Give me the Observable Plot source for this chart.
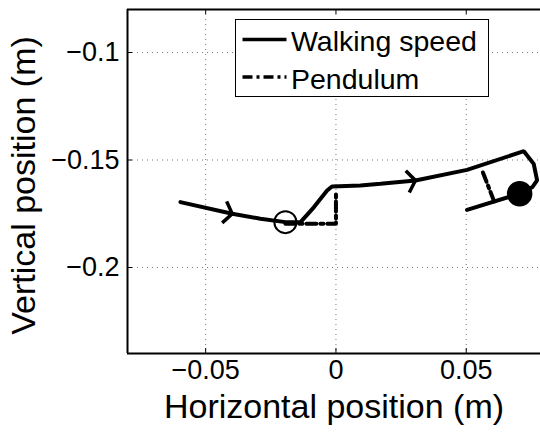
<!DOCTYPE html>
<html>
<head>
<meta charset="utf-8">
<script src="https://cdn.jsdelivr.net/npm/d3@7"></script>
<script src="https://cdn.jsdelivr.net/npm/@observablehq/plot@0.6"></script>
<style>
  body { margin: 0; background: white; }
  #wrap { position: relative; width: 540px; height: 435px; font-family: "Liberation Sans", Arial, sans-serif; }
  #legend { position: absolute; left: 235px; top: 19px; width: 252px; height: 76px; border: 1.5px solid black; background: white; }
</style>
</head>
<body>
<div id="wrap"><div id="chart"></div><div id="legend"></div></div>
<script>
// ---- data ----
const xTicks = [-0.05, 0, 0.05];
const xTickLabels = ["\u22120.05", "0", "0.05"];
const yTicks = [-0.2, -0.15, -0.1];
const yTickLabels = ["\u22120.2", "\u22120.15", "\u22120.1"];
const xDomain = [-0.08, 0.0785];
const yDomain = [-0.24, -0.08];
const xLabel = "Horizontal position (m)";
const yLabel = "Vertical position (m)";

const seriesNames = ["Walking speed", "Pendulum"];

// Walking speed trajectory
const walkX = [-0.0597, -0.0398, -0.0290, -0.0194, -0.0136, -0.0085, -0.0034, -0.0015, 0.0094, 0.0171, 0.0305, 0.0503, 0.0721, 0.0759, 0.0772, 0.0753, 0.0705, 0.0503];
const walkY = [-0.1696, -0.1750, -0.1773, -0.1789, -0.1789, -0.1720, -0.1642, -0.1623, -0.1619, -0.1611, -0.1595, -0.1546, -0.1459, -0.1518, -0.1595, -0.1627, -0.1657, -0.1732];

// Pendulum segments
const pendSeg = [0, 0, 0, 1, 1];
const pendX = [-0.0194, 0.0, 0.0, 0.0564, 0.0610];
const pendY = [-0.1797, -0.1797, -0.1650, -0.1558, -0.1702];

// direction arrows
const arrowX = [-0.0398, 0.0305];
const arrowY = [-0.1750, -0.1595];
const arrowAngle = [11.7, -9.2];

// start / end markers
const openX = [-0.0194], openY = [-0.1789];
const filledX = [0.0705], filledY = [-0.1657];

// ---- layout ----
const W = 540, H = 435, mL = 127, mR = 0, mT = 9, mB = 82;
const frameW = W - mL - mR, frameH = H - mT - mB, tickLen = 5;

// ---- build ----
const walk = walkX.map((x, i) => ({x, y: walkY[i]}));
const pend = pendX.map((x, i) => ({x, y: pendY[i], s: pendSeg[i]}));
const xFmt = new Map(xTicks.map((t, i) => [t, xTickLabels[i]]));
const yFmt = new Map(yTicks.map((t, i) => [t, yTickLabels[i]]));

function chevron(angleDeg) {
  const a = angleDeg * Math.PI / 180, c = Math.cos(a), s = Math.sin(a);
  const pts = [[-8, -11], [0, 0], [-8, 11]];
  return {draw(ctx) {
    pts.forEach(([px, py], i) => {
      const X = px * c - py * s, Y = px * s + py * c;
      if (i) ctx.lineTo(X, Y); else ctx.moveTo(X, Y);
    });
  }};
}

const arrowMarks = arrowX.map((x, i) => Plot.dot([{x, y: arrowY[i]}], {
  x: "x", y: "y", symbol: chevron(arrowAngle[i]), r: 10, fill: "none", stroke: "black", strokeWidth: 3.5, strokeLinejoin: "miter"
}));

const font = "Liberation Sans, Arial, Helvetica, sans-serif";

const chart = Plot.plot({
  width: W, height: H,
  marginLeft: mL, marginRight: mR, marginTop: mT, marginBottom: mB,
  style: {fontFamily: font, fontSize: "27px", background: "white", color: "black", overflow: "visible"},
  x: {domain: xDomain},
  y: {domain: yDomain},
  marks: [
    Plot.gridX(xTicks, {stroke: "#777", strokeOpacity: 1, strokeDasharray: "1,4"}),
    Plot.gridY(yTicks, {stroke: "#777", strokeOpacity: 1, strokeDasharray: "1,4"}),
    Plot.axisX(xTicks, {tickFormat: d => xFmt.get(d), tickSize: 0, tickPadding: 6, fontSize: 27, label: null}),
    Plot.axisY(yTicks, {tickFormat: d => yFmt.get(d), tickSize: 0, tickPadding: 8, fontSize: 27, label: null}),
    // inward tick marks (MATLAB style)
    Plot.tickX(xTicks, {x: d => d, insetTop: frameH - tickLen, stroke: "black"}),
    Plot.tickX(xTicks, {x: d => d, insetBottom: frameH - tickLen, stroke: "black"}),
    Plot.tickY(yTicks, {y: d => d, insetRight: frameW - tickLen, stroke: "black"}),
    Plot.line(walk, {x: "x", y: "y", stroke: "black", strokeWidth: 4, strokeLinejoin: "miter"}),
    Plot.line(pend, {x: "x", y: "y", z: "s", stroke: "black", strokeWidth: 4, strokeDasharray: "10,4,3,4"}),
    ...arrowMarks,
    Plot.dot(openX.map((x, i) => ({x, y: openY[i]})), {x: "x", y: "y", r: 11, fill: "none", stroke: "black", strokeWidth: 2}),
    Plot.dot(filledX.map((x, i) => ({x, y: filledY[i]})), {x: "x", y: "y", r: 12, fill: "black", stroke: "black"}),
    Plot.ruleY([yDomain[0], yDomain[1]], {stroke: "black", strokeWidth: 2}),
    Plot.ruleX([xDomain[0]], {stroke: "black", strokeWidth: 2}),
    Plot.text([xLabel], {frameAnchor: "bottom", textAnchor: "middle", dy: 64, fontSize: 34, fill: "black"}),
    Plot.text([yLabel], {frameAnchor: "left", textAnchor: "middle", dx: -103, dy: 4, rotate: -90, fontSize: 34, fill: "black"})
  ]
});
document.getElementById("chart").appendChild(chart);

// legend
const lg = d3.select("#legend").append("svg").attr("width", 252).attr("height", 76)
  .style("font-family", font);
const dashes = [null, "10,4,3,4"];
const rowY = [19.5, 57];
seriesNames.forEach((name, i) => {
  const cy = rowY[i];
  lg.append("line").attr("x1", 6.5).attr("x2", 50.5).attr("y1", cy).attr("y2", cy)
    .attr("stroke", "black").attr("stroke-width", 3.5).attr("stroke-dasharray", dashes[i]);
  lg.append("text").attr("x", 55).attr("y", cy + 11.5).attr("font-size", 28.5).attr("fill", "black").text(name);
});
</script>
</body>
</html>
